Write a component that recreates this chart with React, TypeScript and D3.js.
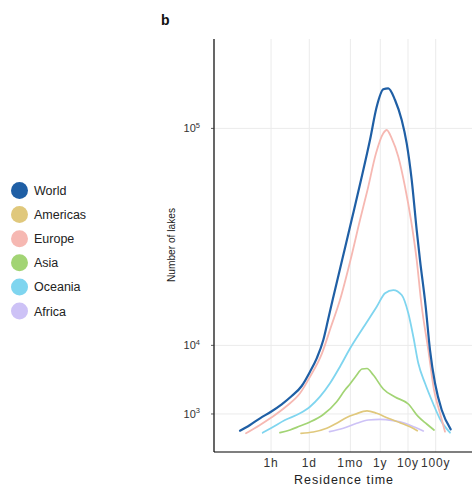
import React from "react";
import * as d3 from "d3";

// residence time in days, number of lakes
const regions = ["World", "Americas", "Europe", "Asia", "Oceania", "Africa"];
const regionColors = ["#1f5fa5", "#e0c87c", "#f6b8b2", "#a2d474", "#7fd5ef", "#cdc2f6"];

const worldDays = [0.00315, 0.00723, 0.0166, 0.0414, 0.101, 0.232, 0.532, 1.06, 1.85, 3.2, 4.73, 6.94, 15.3, 33.7, 73.5, 155, 271, 469, 711, 1242, 2166, 3280, 4980, 7530, 9910, 15670, 22750, 34500, 60260, 127400];
const worldLakes = [223, 426, 745, 1148, 1702, 2452, 3539, 5435, 7586, 11094, 15690, 21080, 34245, 50590, 70110, 92800, 114120, 126150, 126860, 118700, 105350, 90800, 70110, 46200, 34245, 19660, 9095, 3867, 1266, 267];

const europeDays = [0.00519, 0.0166, 0.0439, 0.153, 0.461, 1.06, 2.87, 6.07, 12.8, 30.7, 67.6, 126, 256, 469, 622, 944, 1633, 2850, 4690, 7530, 11250, 19770, 31770, 52300, 79200];
const europeLakes = [153, 426, 801, 1565, 2727, 4728, 8478, 14063, 21080, 34245, 50590, 64920, 84900, 96920, 98980, 93830, 82940, 66620, 50590, 34245, 19660, 9095, 3081, 1042, 195];

const oceaniaDays = [0.0208, 0.0439, 0.133, 0.461, 1.06, 2.43, 5.59, 12.8, 29.5, 89, 271, 541, 1078, 2166, 3750, 5690, 8610, 15030, 29970, 52300, 120000];
const oceaniaLakes = [168, 322, 656, 1042, 1510, 2384, 3867, 6197, 9382, 13874, 19186, 23065, 24070, 22553, 17408, 11798, 6742, 3867, 1727, 708, 168];

const asiaDays = [0.0875, 0.201, 0.461, 1.06, 3.2, 9.75, 19.4, 29.5, 48.5, 80, 121, 204, 469, 1242, 3750, 8610, 17300, 31770];
const asiaLakes = [168, 245, 385, 558, 967, 1923, 3081, 3780, 4826, 5840, 5918, 4963, 3192, 2355, 1727, 835, 468, 245];

const americasDays = [0.501, 1.39, 4.25, 9.75, 22.4, 44.7, 121, 271, 711, 1880, 4320, 7920];
const americasLakes = [153, 186, 301, 499, 790, 979, 1210, 1042, 745, 526, 358, 223];

const africaDays = [5.36, 16.9, 51.4, 135, 357, 1078, 2850, 6550, 13060];
const africaLakes = [195, 301, 499, 656, 692, 621, 499, 336, 215];

const xTickDays = [1 / 24, 1, 30.4375, 365.25, 3652.5, 36525];
const xTickLabels = ["1h", "1d", "1mo", "1y", "10y", "100y"];
const yTickValues = [1000, 10000, 100000];
const yTickExps = ["3", "4", "5"];

const W = 472;
const H = 488;
const left = 214;
const right = 472;
const top = 39;
const bottom = 452;

const font = "'Liberation Sans', Arial, Helvetica, sans-serif";

export default function App() {
  const x = d3.scaleLog().domain([1, 36525]).range([309.3, 435.7]);
  const y = d3.scaleSqrt().domain([0, 100000]).range([445.7, 128.4]);

  const line = d3
    .line<[number, number]>()
    .x((d) => x(d[0]))
    .y((d) => y(d[1]))
    .curve(d3.curveMonotoneX);

  const series = [
    { name: "Africa", days: africaDays, lakes: africaLakes, w: 1.7 },
    { name: "Americas", days: americasDays, lakes: americasLakes, w: 1.7 },
    { name: "Asia", days: asiaDays, lakes: asiaLakes, w: 1.7 },
    { name: "Oceania", days: oceaniaDays, lakes: oceaniaLakes, w: 1.8 },
    { name: "Europe", days: europeDays, lakes: europeLakes, w: 1.8 },
    { name: "World", days: worldDays, lakes: worldLakes, w: 2.2 },
  ];

  const color = d3.scaleOrdinal<string, string>().domain(regions).range(regionColors);

  return (
    <svg width={W} height={H} style={{ position: "absolute", left: 0, top: 0, background: "#fff" }} fontFamily={font}>
      <text x={161} y={25} fontSize={14} fontWeight="bold" fill="#111">b</text>

      {/* grid */}
      {xTickDays.map((d, i) => (
        <line key={"gx" + i} x1={x(d)} x2={x(d)} y1={top} y2={bottom} stroke="#ebebeb" strokeWidth={1} />
      ))}
      {yTickValues.map((v, i) => (
        <line key={"gy" + i} x1={left} x2={right} y1={y(v)} y2={y(v)} stroke="#ebebeb" strokeWidth={1} />
      ))}

      {/* lines */}
      {series.map((s) => (
        <path
          key={s.name}
          d={line(s.days.map((d, i) => [d, s.lakes[i]] as [number, number])) || ""}
          fill="none"
          stroke={color(s.name)}
          strokeWidth={s.w}
          strokeLinejoin="round"
          strokeLinecap="round"
        />
      ))}

      {/* axes */}
      <line x1={left} x2={left} y1={top} y2={bottom} stroke="#000" strokeWidth={1.2} />
      <line x1={left} x2={right} y1={bottom} y2={bottom} stroke="#000" strokeWidth={1.2} />
      {yTickValues.map((v, i) => (
        <g key={"yt" + i}>
          <line x1={left - 3} x2={left} y1={y(v)} y2={y(v)} stroke="#333" strokeWidth={0.8} />
          <text x={200} y={y(v) + 4} fontSize={11} fill="#333" textAnchor="end">
            10
            <tspan fontSize={7.5} dy={-4.5}>{yTickExps[i]}</tspan>
          </text>
        </g>
      ))}
      {xTickDays.map((d, i) => (
        <text key={"xt" + i} x={x(d)} y={467} fontSize={12} letterSpacing={0.9} fill="#333" textAnchor="middle">
          {xTickLabels[i]}
        </text>
      ))}
      <text x={344} y={484} fontSize={12.5} letterSpacing={1} fill="#222" textAnchor="middle">
        Residence time
      </text>
      <text
        transform="translate(174.5,245) rotate(-90)"
        fontSize={11}
        fill="#222"
        textAnchor="middle"
        textLength={74}
        lengthAdjust="spacingAndGlyphs"
      >
        Number of lakes
      </text>

      {/* legend */}
      {regions.map((r, i) => (
        <g key={r} transform={`translate(19.5,${190.5 + i * 24.1})`}>
          <circle r={8.5} fill={color(r)} />
          <text x={14.5} y={4.5} fontSize={12.5} fill="#222">{r}</text>
        </g>
      ))}
    </svg>
  );
}
